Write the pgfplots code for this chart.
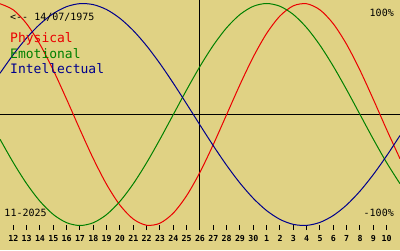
\documentclass[border=0pt]{standalone}
\usepackage{fontspec}
\usepackage{pgfplots}
\pgfplotsset{compat=1.18}
\newfontfamily\mono{DejaVu Sans Mono}
\definecolor{bg}{RGB}{224,210,132}
\definecolor{pred}{RGB}{235,0,0}
\definecolor{egreen}{RGB}{0,128,0}
\definecolor{iblue}{RGB}{0,0,140}
\begin{document}
\begin{tikzpicture}
\fill[bg] (0,-20pt) rectangle (400pt,230pt);
\begin{axis}[
  at={(0,0)}, anchor=south west,
  width=400pt, height=230pt, scale only axis,
  xmin=-1, xmax=29, ymin=-1.0405, ymax=1.0315,
  axis line style={draw=none},
  xtick={0,...,28},
  xticklabels={12,13,14,15,16,17,18,19,20,21,22,23,24,25,26,27,28,29,30,1,2,3,4,5,6,7,8,9,10},
  ytick=\empty,
  xtick pos=left,
  tick align=inside,
  major tick length=5.5pt,
  tick style={black, line width=1pt},
  xticklabel style={font=\mono\bfseries\fontsize{8.3}{10}\selectfont, inner sep=0pt, yshift=-5pt},
]
\addplot[black, line width=1pt] coordinates {(-1,0) (29,0)};
\addplot[black, line width=1pt] coordinates {(14,1.04) (14,-1.025)};
% Physical (23 days)
\addplot[pred, line width=1pt, smooth] coordinates {
(-1,0.9977) (0,0.9423) (1,0.8170) (2,0.6311) (3,0.3984) (4,0.1362) (5,-0.1362)
(6,-0.3984) (7,-0.6311) (8,-0.8170) (9,-0.9423) (10,-0.9977) (11,-0.9791) (12,-0.8879)
(13,-0.7308) (14,-0.5196) (15,-0.2698) (16,0) (17,0.2698) (18,0.5196) (19,0.7308)
(20,0.8879) (21,0.9791) (22,0.9977) (23,0.9423) (24,0.8170) (25,0.6311) (26,0.3984)
(27,0.1362) (28,-0.1362) (29,-0.3984)};
% Emotional (28 days)
\addplot[egreen, line width=1pt, smooth] coordinates {
(-1,-0.2225) (0,-0.4339) (1,-0.6235) (2,-0.7818) (3,-0.9010) (4,-0.9749) (5,-1)
(6,-0.9749) (7,-0.9010) (8,-0.7818) (9,-0.6235) (10,-0.4339) (11,-0.2225) (12,0)
(13,0.2225) (14,0.4339) (15,0.6235) (16,0.7818) (17,0.9010) (18,0.9749) (19,1)
(20,0.9749) (21,0.9010) (22,0.7818) (23,0.6235) (24,0.4339) (25,0.2225) (26,0)
(27,-0.2225) (28,-0.4339) (29,-0.6235)};
% Intellectual (33 days)
\addplot[iblue, line width=1pt, smooth] coordinates {
(-1,0.3717) (0,0.5406) (1,0.6901) (2,0.8146) (3,0.9096) (4,0.9718) (5,0.9989)
(6,0.9898) (7,0.9450) (8,0.8660) (9,0.7557) (10,0.6182) (11,0.4582) (12,0.2817)
(13,0.0951) (14,-0.0951) (15,-0.2817) (16,-0.4582) (17,-0.6182) (18,-0.7557) (19,-0.8660)
(20,-0.9450) (21,-0.9898) (22,-0.9989) (23,-0.9718) (24,-0.9096) (25,-0.8146) (26,-0.6901)
(27,-0.5406) (28,-0.3717) (29,-0.1893)};
\end{axis}
\begin{scope}[every node/.style={inner sep=0pt}]
\node[anchor=base west, font=\mono\fontsize{10}{12}\selectfont] at (10pt,210pt) {<-\kern0pt-\kern0pt\ 14/07/1975};
\node[anchor=base west, font=\mono\fontsize{13}{15}\selectfont, text=pred] at (10pt,187.3pt) {Physical};
\node[anchor=base west, font=\mono\fontsize{13}{15}\selectfont, text=egreen] at (10pt,171.7pt) {Emotional};
\node[anchor=base west, font=\mono\fontsize{13}{15}\selectfont, text=iblue] at (10pt,156.7pt) {Intellectual};
\node[anchor=base east, font=\mono\fontsize{10}{12}\selectfont] at (394pt,214pt) {100\%};
\node[anchor=base west, font=\mono\fontsize{10}{12}\selectfont] at (4.3pt,14pt) {11-2025};
\node[anchor=base east, font=\mono\fontsize{10}{12}\selectfont] at (394pt,14pt) {-100\%};
\end{scope}
\end{tikzpicture}
\end{document}
